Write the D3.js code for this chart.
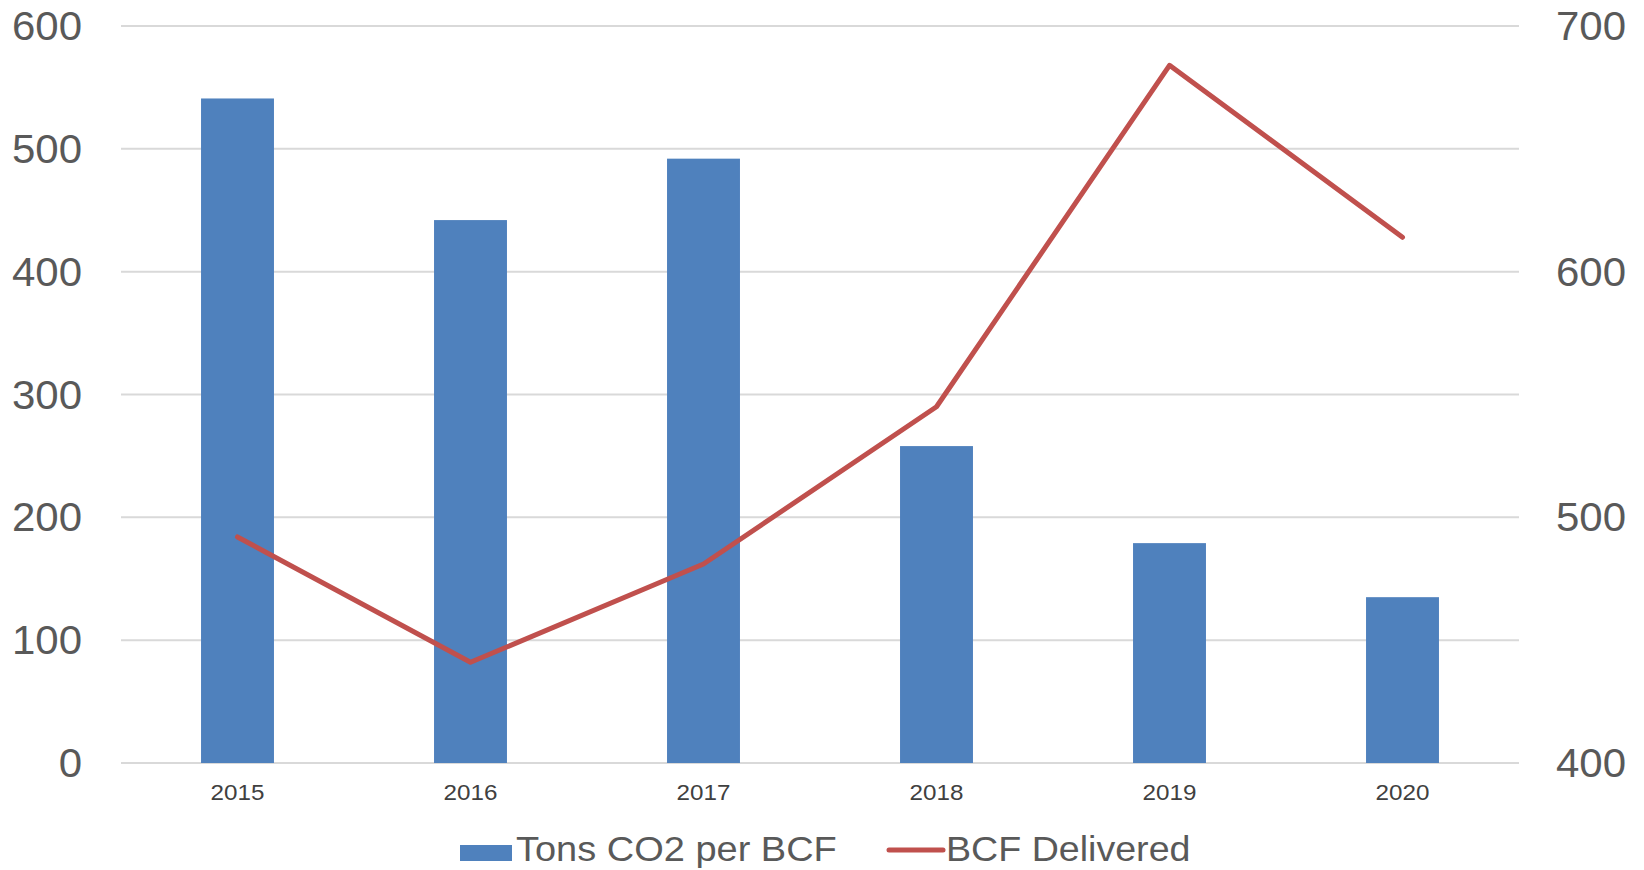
<!DOCTYPE html>
<html lang="en">

<head>
  <meta charset="utf-8">
  <title>Tons CO2 per BCF vs BCF Delivered</title>
  <script src="https://d3js.org/d3.v7.min.js"></script>
  <style>
    body {
      margin: 0;
      background: #ffffff;
    }

    text {
      font-family: "Liberation Sans", Arial, sans-serif;
    }

    .grid line {
      stroke: #d9d9d9;
      stroke-width: 2px;
    }

    .tick-left, .tick-right {
      fill: #595959;
      font-size: 40px;
    }

    .tick-x {
      fill: #404040;
      font-size: 22px;
      text-anchor: middle;
    }

    .legend-text {
      fill: #595959;
      font-size: 36px;
    }
  </style>
</head>

<body>
  <div id="chart"></div>

  <script>
    var years = ["2015", "2016", "2017", "2018", "2019", "2020"];
    var tonsCO2 = [541, 442, 492, 258, 179, 135];
    var bcfDelivered = [492, 441, 481, 545, 684, 614];
    var leftTicks = [0, 100, 200, 300, 400, 500, 600];
    var rightTicks = [400, 500, 600, 700];
    var seriesNames = ["Tons CO2 per BCF", "BCF Delivered"];

    var width = 1644, height = 870;
    var plot = {left: 121, right: 1519, top: 26, bottom: 763};

    // the original text is drawn a bit wider than plain Arial
    function place(x, y, k) {
      return "translate(" + x + "," + y + ") scale(" + k + ",1)";
    }

    var svg = d3.select("#chart")
      .append("svg")
        .attr("width", width)
        .attr("height", height);

    var x = d3.scaleBand()
      .domain(years)
      .range([plot.left, plot.right]);

    var yLeft = d3.scaleLinear()
      .domain([0, 600])
      .range([plot.bottom, plot.top]);

    var yRight = d3.scaleLinear()
      .domain([400, 700])
      .range([plot.bottom, plot.top]);

    // gridlines
    svg.append("g")
      .attr("class", "grid")
      .selectAll("line")
      .data(leftTicks)
      .enter()
      .append("line")
        .attr("x1", plot.left)
        .attr("x2", plot.right)
        .attr("y1", function(d) { return yLeft(d); })
        .attr("y2", function(d) { return yLeft(d); });

    // left axis labels
    svg.append("g")
      .selectAll("text")
      .data(leftTicks)
      .enter()
      .append("text")
        .attr("class", "tick-left")
        .attr("text-anchor", "end")
        .attr("transform", function(d) { return place(82, yLeft(d) + 14, 1.05); })
        .text(function(d) { return d; });

    // right axis labels
    svg.append("g")
      .selectAll("text")
      .data(rightTicks)
      .enter()
      .append("text")
        .attr("class", "tick-right")
        .attr("text-anchor", "start")
        .attr("transform", function(d) { return place(1556, yRight(d) + 14, 1.05); })
        .text(function(d) { return d; });

    // bars
    var barW = x.bandwidth() * 0.313;
    svg.append("g")
      .selectAll("rect")
      .data(years)
      .enter()
      .append("rect")
        .attr("x", function(d) { return x(d) + (x.bandwidth() - barW) / 2; })
        .attr("y", function(d, i) { return yLeft(tonsCO2[i]); })
        .attr("width", barW)
        .attr("height", function(d, i) { return yLeft(0) - yLeft(tonsCO2[i]); })
        .attr("fill", "#4f81bd");

    // line
    var line = d3.line()
      .x(function(d, i) { return x(years[i]) + x.bandwidth() / 2; })
      .y(function(d) { return yRight(d); });

    svg.append("path")
      .datum(bcfDelivered)
      .attr("d", line)
      .attr("fill", "none")
      .attr("stroke", "#c0504d")
      .attr("stroke-width", 5)
      .attr("stroke-linejoin", "round")
      .attr("stroke-linecap", "round");

    // x labels
    svg.append("g")
      .selectAll("text")
      .data(years)
      .enter()
      .append("text")
        .attr("class", "tick-x")
        .attr("transform", function(d) { return place(x(d) + x.bandwidth() / 2, 800, 1.1); })
        .text(function(d) { return d; });

    // legend
    var legend = svg.append("g");
    legend.append("rect")
      .attr("x", 460)
      .attr("y", 845)
      .attr("width", 52)
      .attr("height", 16)
      .attr("fill", "#4f81bd");
    legend.append("text")
      .attr("class", "legend-text")
      .attr("transform", place(516, 861, 1.055))
      .text(seriesNames[0]);
    legend.append("line")
      .attr("x1", 889)
      .attr("x2", 943)
      .attr("y1", 850)
      .attr("y2", 850)
      .attr("stroke", "#c0504d")
      .attr("stroke-width", 5)
      .attr("stroke-linecap", "round");
    legend.append("text")
      .attr("class", "legend-text")
      .attr("transform", place(946, 861, 1.045))
      .text(seriesNames[1]);
  </script>
</body>

</html>
